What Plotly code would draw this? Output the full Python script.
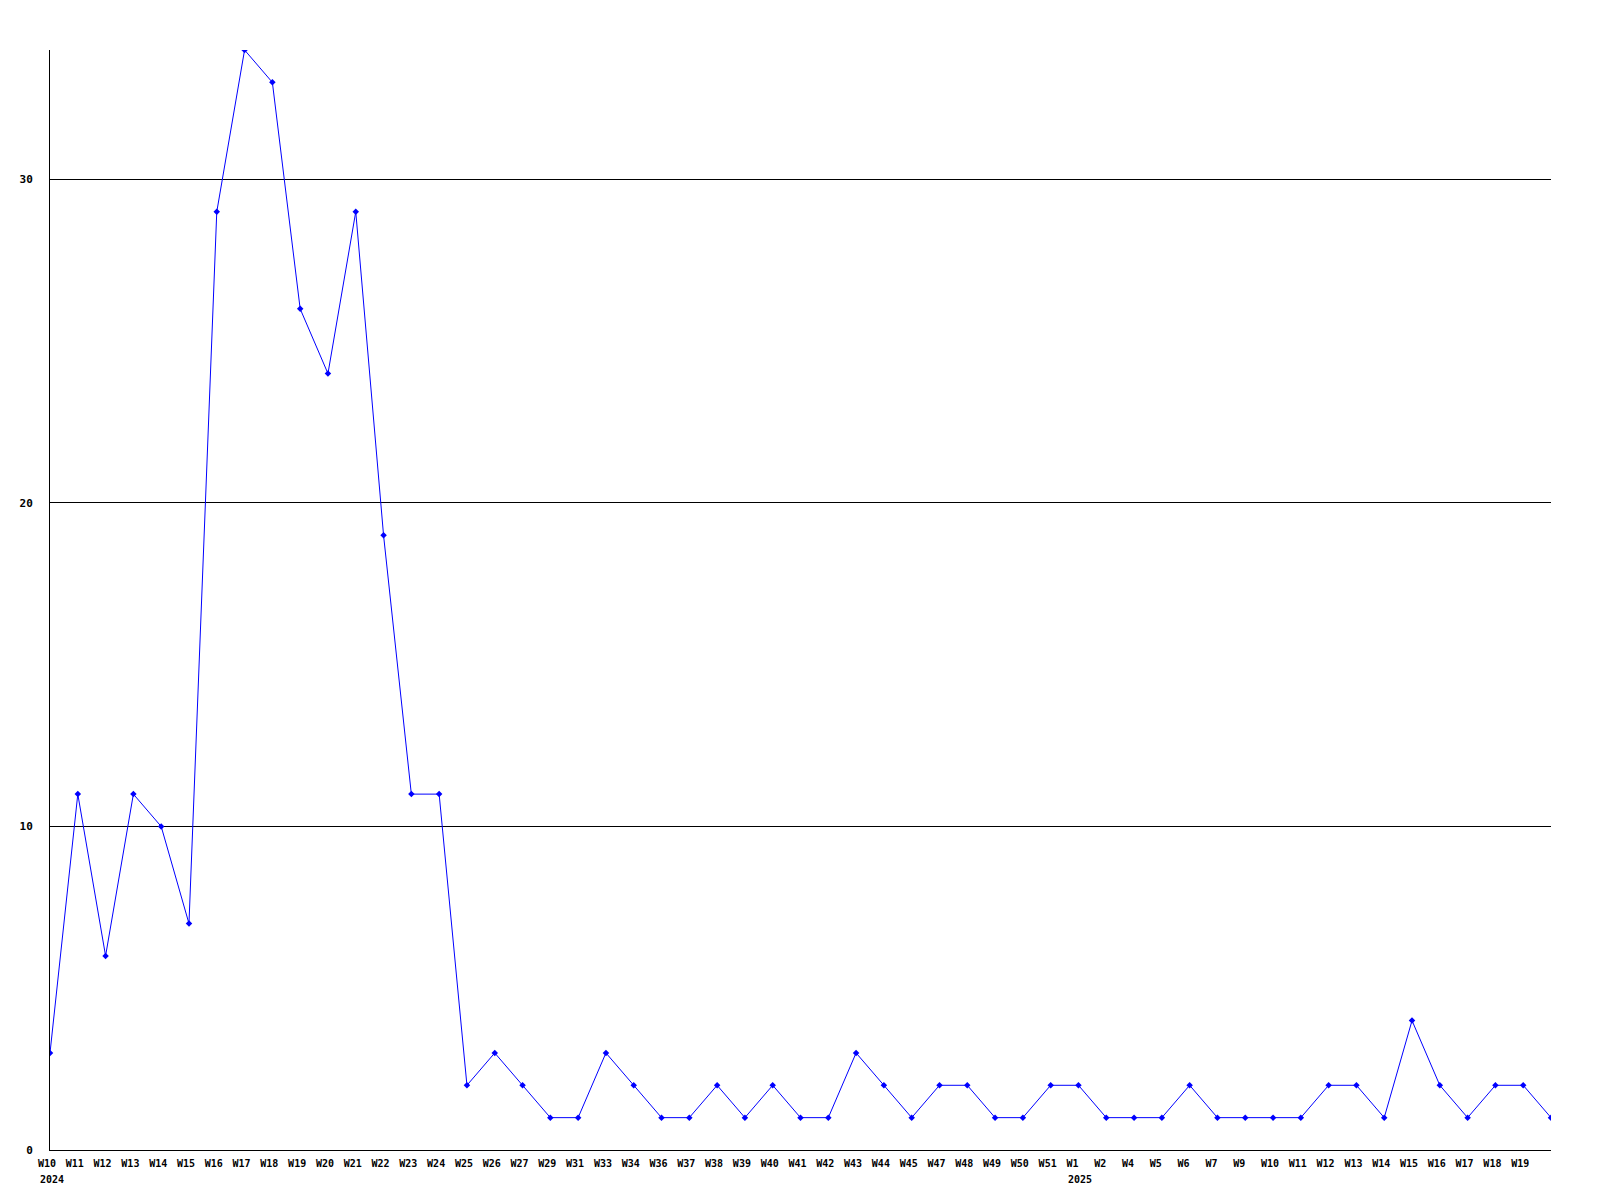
import plotly.graph_objects as go

# ---- data ----
years = ["2024"] * 37 + ["2025"] * 18
weeks = [
    "W10", "W11", "W12", "W13", "W14", "W15", "W16", "W17", "W18", "W19",
    "W20", "W21", "W22", "W23", "W24", "W25", "W26", "W27", "W29", "W31",
    "W33", "W34", "W36", "W37", "W38", "W39", "W40", "W41", "W42", "W43",
    "W44", "W45", "W47", "W48", "W49", "W50", "W51",
    "W1", "W2", "W4", "W5", "W6", "W7", "W9", "W10", "W11", "W12", "W13",
    "W14", "W15", "W16", "W17", "W18", "W19", "W20",
]
values = [
    3, 11, 6, 11, 10, 7, 29, 34, 33, 26,
    24, 29, 19, 11, 11, 2, 3, 2, 1, 1,
    3, 2, 1, 1, 2, 1, 2, 1, 1, 3,
    2, 1, 2, 2, 1, 1, 2,
    2, 1, 1, 1, 2, 1, 1, 1, 1, 2, 2,
    1, 4, 2, 1, 2, 2, 1,
]
y_ticks = [0, 10, 20, 30]

cats = [f"{y}-{w}" for y, w in zip(years, weeks)]
n_labelled = len(cats) - 1  # last week has no label in the reference

FONT = "DejaVu Sans Mono"

fig = go.Figure()
fig.add_trace(go.Scatter(
    x=cats, y=values, mode="lines+markers",
    line=dict(color="#0000ff", width=1),
    marker=dict(symbol="diamond", size=5, color="#0000ff"),
    hoverinfo="x+y",
))

# tick labels padded to a fixed width so they share a left edge like the original
ticktext = [(w + "\u00a0" * (4 - len(w))) for w in weeks[:n_labelled]]

annotations = []
prev = None
for c, y in zip(cats, years):
    if y != prev:
        annotations.append(dict(
            x=c, xref="x", y=0, yref="paper", text=y, showarrow=False,
            xanchor="left", yanchor="top", xshift=-12, yshift=-22,
            font=dict(family=FONT, size=10, color="#000000", weight="bold"),
        ))
        prev = y

fig.update_layout(
    width=1584, height=1184,
    margin=dict(l=42, r=41, t=42, b=42),
    paper_bgcolor="#ffffff", plot_bgcolor="#ffffff",
    showlegend=False,
    annotations=annotations,
    xaxis=dict(
        type="category", range=[0, len(cats) - 1],
        tickmode="array", tickvals=cats[:n_labelled], ticktext=ticktext,
        showgrid=False, zeroline=False,
        showline=True, linecolor="#000000", linewidth=1,
        ticks="", ticklabelstandoff=4,
        tickfont=dict(family=FONT, size=10, color="#000000", weight="bold"),
        tickangle=0,
    ),
    yaxis=dict(
        range=[0, 34], tickmode="array", tickvals=y_ticks,
        showgrid=True, gridcolor="#000000", gridwidth=1,
        zeroline=False,
        showline=True, linecolor="#000000", linewidth=1,
        ticks="", ticklabelstandoff=14,
        tickfont=dict(family=FONT, size=11, color="#000000", weight="bold"),
    ),
)

fig.write_html("out.html")
